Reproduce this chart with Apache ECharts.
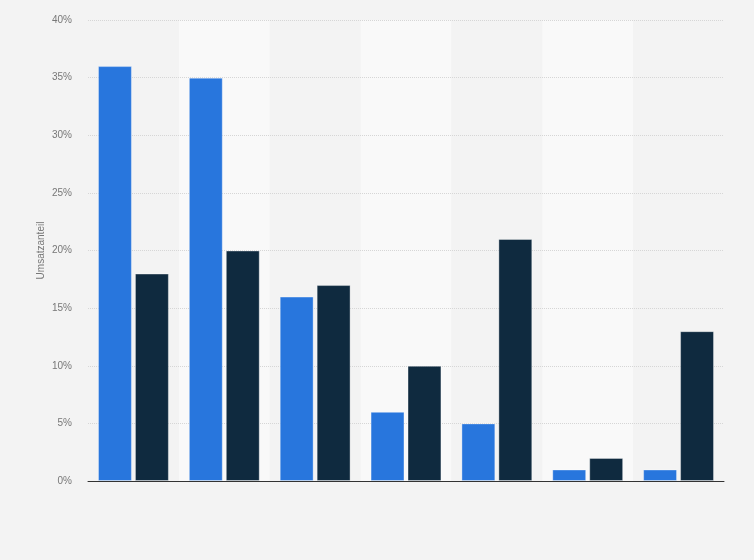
<!DOCTYPE html>
<html>
<head>
<meta charset="utf-8">
<script src="https://cdn.jsdelivr.net/npm/echarts@6/dist/echarts.min.js"></script>
<style>
html,body{margin:0;padding:0;background:#f3f3f3;}
#c{width:754px;height:560px;}
</style>
</head>
<body>
<div id="c"></div>
<script>
const categories = ['1','2','3','4','5','6','7'];
const seriesA = [36, 35, 16, 6, 5, 1, 1];
const seriesB = [18, 20, 17, 10, 21, 2, 13];
const yTicks = [0, 5, 10, 15, 20, 25, 30, 35, 40];

const chart = echarts.init(document.getElementById('c'));
chart.setOption({
  backgroundColor: '#f3f3f3',
  animation: false,
  grid: {left: 88, right: 30, top: 20, bottom: 79},
  xAxis: {
    type: 'category',
    data: categories,
    z: 0,
    axisLine: {lineStyle: {color: '#333', width: 1}},
    axisTick: {show: false},
    axisLabel: {show: false},
    splitArea: {show: true, areaStyle: {color: ['#f3f3f3', '#f9f9f9']}}
  },
  yAxis: {
    type: 'value',
    z: 1,
    min: yTicks[0],
    max: yTicks[yTicks.length - 1],
    interval: 5,
    name: 'Umsatzanteil',
    nameLocation: 'middle',
    nameGap: 42,
    nameMoveOverlap: false,
    nameTextStyle: {color: '#777', fontSize: 10, fontFamily: 'Liberation Sans, Arial'},
    axisLine: {show: false},
    axisTick: {show: false},
    axisLabel: {formatter: '{value}%', color: '#777', fontSize: 10, margin: 16, fontFamily: 'Liberation Sans, Arial'},
    splitLine: {show: true, showMinLine: false, lineStyle: {color: '#d6d6d6', width: 1, type: 'dotted'}}
  },
  series: [
    {
      type: 'bar', data: seriesA, barGap: '9%', barCategoryGap: '22%',
      itemStyle: {color: '#2876dd', borderColor: 'rgba(255,255,255,0.35)', borderWidth: 1}
    },
    {
      type: 'bar', data: seriesB,
      itemStyle: {color: '#0f2a3f', borderColor: 'rgba(255,255,255,0.35)', borderWidth: 1}
    }
  ]
});
</script>
</body>
</html>
